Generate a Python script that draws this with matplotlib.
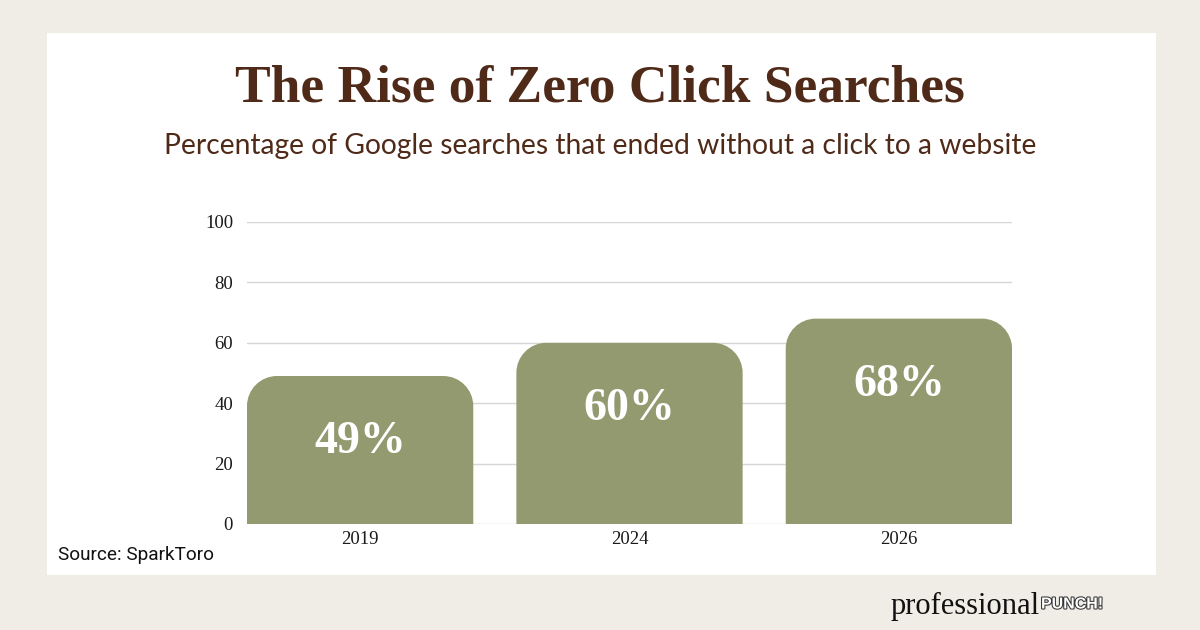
import matplotlib
matplotlib.use("Agg")
import matplotlib.pyplot as plt
from matplotlib.patches import Rectangle, PathPatch
from matplotlib.path import Path
import matplotlib.patheffects as pe
import matplotlib.transforms as mtransforms

years = ["2019", "2024", "2026"]
values = [49, 60, 68]
labels = ["49%", "60%", "68%"]
yticks = [0, 20, 40, 60, 80, 100]

BG = "#f0ede6"
BROWN = "#4f2a18"
BAR = "#939a6f"

fig = plt.figure(figsize=(12, 6.3), dpi=100, facecolor=BG)
fig.patches.append(Rectangle((47/1200, 1-575/630), (1156-47)/1200, (575-33)/630,
                             transform=fig.transFigure, facecolor="white", edgecolor="none", zorder=-1))

ax = fig.add_axes([247/1200, 1-524/630, (1012-247)/1200, (524-222)/630])
ax.set_zorder(2)
ax.set_facecolor("none")
x = list(range(len(years)))
bars = ax.bar(x, values, width=0.84, color=BAR, alpha=0)
ax.set_xlim(-0.42, 2.42)
ax.set_ylim(0, 100)

# rounded top corners
bbox = ax.get_position()
pxx = bbox.width * 1200 / (2.42 + 0.42)
pxy = bbox.height * 630 / 100
rpx = 30
rx, ry = rpx / pxx, rpx / pxy
k = 0.5523
for b in bars:
    x0, w, h = b.get_x(), b.get_width(), b.get_height()
    x1 = x0 + w
    verts = [(x0, 0), (x0, h - ry),
             (x0, h - ry + k*ry), (x0 + rx - k*rx, h), (x0 + rx, h),
             (x1 - rx, h),
             (x1 - rx + k*rx, h), (x1, h - ry + k*ry), (x1, h - ry),
             (x1, 0), (x0, 0)]
    codes = [Path.MOVETO, Path.LINETO,
             Path.CURVE4, Path.CURVE4, Path.CURVE4,
             Path.LINETO,
             Path.CURVE4, Path.CURVE4, Path.CURVE4,
             Path.LINETO, Path.CLOSEPOLY]
    ax.add_patch(PathPatch(Path(verts, codes), facecolor=BAR, edgecolor="none", zorder=3))

off = mtransforms.ScaledTranslation(0, -66/100, fig.dpi_scale_trans)
for xi, v, lab in zip(x, values, labels):
    ax.text(xi, v, lab, ha="center", va="center", color="white", fontsize=33,
            fontweight="bold", family="Liberation Serif", zorder=4,
            transform=ax.transData + off)

ax.set_yticks(yticks)
ax.set_xticks(x)
ax.set_xticklabels(years)
ax.grid(axis="y", color="#d6d6d6", linewidth=1)
ax.set_axisbelow(True)
for s in ax.spines.values():
    s.set_visible(False)
ax.tick_params(length=0, labelsize=13.5, labelcolor="#1a1a1a")
ax.tick_params(axis="x", pad=5)
ax.tick_params(axis="y", pad=10)
for t in ax.get_xticklabels() + ax.get_yticklabels():
    t.set_family("Liberation Serif")

fig.text(0.5, 1-88/630, "The Rise of Zero Click Searches", ha="center", va="center",
         fontsize=38.5, fontweight="bold", family="Liberation Serif", color=BROWN)
fig.text(0.5, 1-146/630, "Percentage of Google searches that ended without a click to a website",
         ha="center", va="center", fontsize=20.3, family="Lato", color=BROWN)
fig.text(58/1200, 1-555/630, "Source: SparkToro", ha="left", va="center", fontsize=13.7,
         family="Roboto", color="#111111")

fig.text(1040/1200, 1-606/630, "professional", ha="right", va="center", fontsize=22,
         family="Liberation Serif", color="#111111")
fig.text(1041/1200, 1-604/630, "PUNCH!", ha="left", va="center", fontsize=11.5, fontweight="bold",
         family="Liberation Sans", color="white",
         path_effects=[pe.withStroke(linewidth=1.5, foreground="#333333")])

fig.savefig("out.png", dpi=100, facecolor=BG)
